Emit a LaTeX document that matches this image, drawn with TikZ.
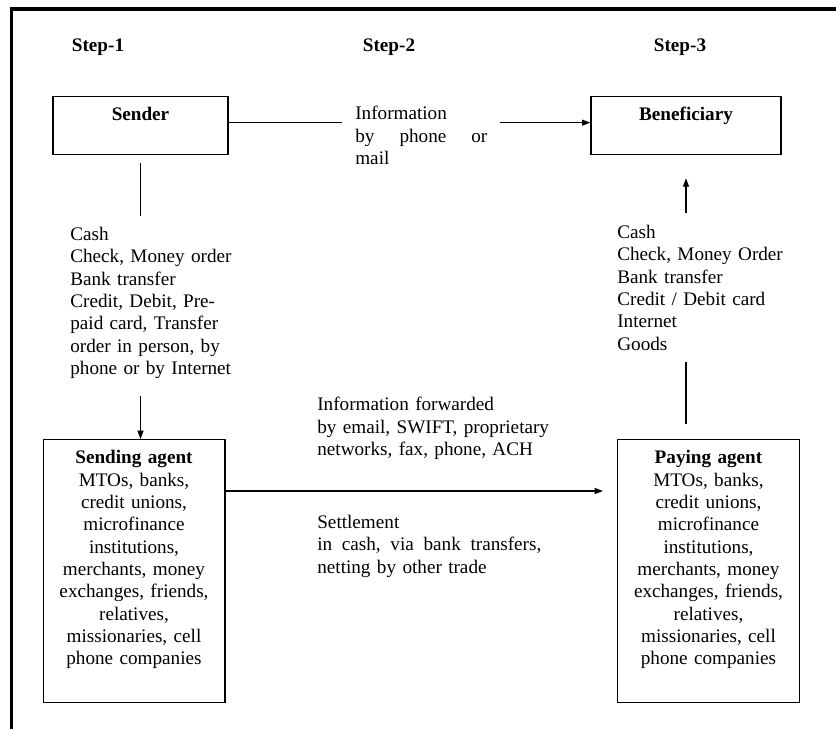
\documentclass[tikz,border=0pt]{standalone}
\usepackage{fontspec}
\setmainfont{Liberation Serif}
\usetikzlibrary{arrows.meta}

\begin{document}
\begin{tikzpicture}[x=0.6pt,y=-0.6pt,>={Triangle[length=5pt,width=3.6pt]},
  every node/.style={font=\fontsize{11.5}{13.4}\selectfont},
  steplabel/.style={font=\fontsize{11.5}{13.4}\selectfont\bfseries,anchor=base},
  headbox/.style={draw,line width=0.8pt,anchor=north,inner xsep=4pt,inner ysep=6pt,text height=8.5pt,text depth=14.3pt},
  agentbox/.style={draw,line width=0.8pt,anchor=north,text width=101pt,align=center,inner xsep=4pt,inner ysep=6pt,text height=8.5pt,text depth=137.3pt},
  plain/.style={anchor=north west,inner sep=0pt,align=left},
  link/.style={line width=0.7pt}]
  \useasboundingbox (0,0) rectangle (836,729);
  \draw[line width=2.2pt] (11.5,729) -- (11.5,9) -- (836,9);

  \node[steplabel] (step1) at (98,51) {Step-1};
  \node[steplabel] (step2) at (389,51) {Step-2};
  \node[steplabel] (step3) at (680,51) {Step-3};

  \node[headbox,minimum width=105pt] (sender) at (140.5,96) {\textbf{Sender}};
  \node[headbox,minimum width=114pt] (benef) at (686,96) {\textbf{Beneficiary}};
  \node[plain,text width=79.2pt] (info) at (355,106) {Information\\ by\hfill phone\hfill or\\ mail};

  \node[plain,text width=100pt] (sendlist) at (70,227) {Cash\\ Check, Money order\\ Bank transfer\\ Credit, Debit, Pre-\\ paid card, Transfer\\ order in person, by\\ phone or by Internet};
  \node[plain,text width=100pt] (paylist) at (617,225) {Cash\\ Check, Money Order\\ Bank transfer\\ Credit / Debit card\\ Internet\\ Goods};

  \node[agentbox] (sendagent) at (134,439) {\textbf{Sending agent}\\ MTOs, banks,\\ credit unions,\\ microfinance\\ institutions,\\ merchants, money\\ exchanges, friends,\\ relatives,\\ missionaries, cell\\ phone companies};
  \node[agentbox] (payagent) at (708.5,439) {\textbf{Paying agent}\\ MTOs, banks,\\ credit unions,\\ microfinance\\ institutions,\\ merchants, money\\ exchanges, friends,\\ relatives,\\ missionaries, cell\\ phone companies};

  \node[plain,text width=140pt] (fwd) at (317,397) {Information forwarded\\ by email, SWIFT, proprietary\\ networks, fax, phone, ACH};
  \node[plain,text width=134.4pt] (settle) at (317,515) {Settlement\\ in\hfill cash,\hfill via\hfill bank\hfill transfers,\\ netting by other trade};

  \draw[link] ([yshift=1.8pt]sender.east) -- ([xshift=-7.8pt,yshift=1.8pt]info.west |- sender.east);
  \draw[link,->] ([xshift=7.2pt,yshift=1.8pt]info.east |- benef.west) -- ([yshift=1.8pt]benef.west);
  \draw[link,shorten <=4.8pt,shorten >=6.6pt] (sender.south) -- (sender.south |- sendlist.north);
  \draw[link,->,shorten <=10pt] (sender.south |- sendlist.south) -- (sender.south |- sendagent.north);
  \draw[link,->,shorten >=8.4pt] ([yshift=-31.2pt]sendagent.north east) -- ([yshift=-31.2pt]sendagent.north east -| payagent.west);
  \draw[link,shorten <=9pt,shorten >=6.6pt] (benef.south |- payagent.north) -- (benef.south |- paylist.south);
  \draw[link,->,shorten <=7.2pt,shorten >=13.8pt] (benef.south |- paylist.north) -- (benef.south);
\end{tikzpicture}
\end{document}
